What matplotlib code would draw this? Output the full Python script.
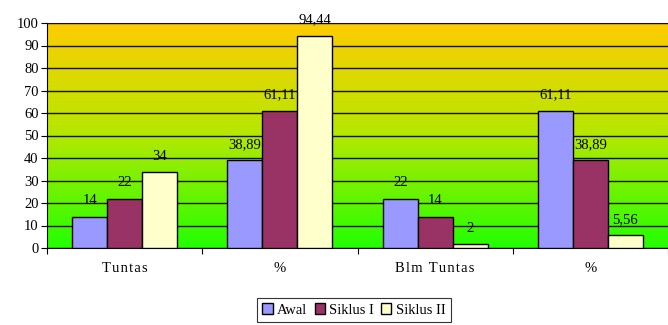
import numpy as np
import matplotlib
matplotlib.use("Agg")
import matplotlib.pyplot as plt
from matplotlib.colors import LinearSegmentedColormap

categories = ["Tuntas", "%", "Blm Tuntas", "%"]
series_names = ["Awal", "Siklus I", "Siklus II"]
awal = [14, 38.89, 22, 61.11]
siklus1 = [22, 61.11, 14, 38.89]
siklus2 = [34, 94.44, 2, 5.56]
colors = ["#9999FF", "#993366", "#FFFFCC"]

plt.rcParams["font.family"] = ["Liberation Serif", "DejaVu Serif"]
fs = 10.5

fig = plt.figure(figsize=(6.68, 3.25), dpi=100)
ax = fig.add_axes([47 / 668, 1 - 248 / 325, 1 - 47 / 668, 225 / 325])

# gradient background
cmap = LinearSegmentedColormap.from_list("bg", ["#22FF00", "#B4E800", "#FFCC00"])
grad = np.linspace(0, 1, 256).reshape(-1, 1)
ax.imshow(grad, cmap=cmap, aspect="auto", origin="lower",
          extent=[0, 4, 0, 100], zorder=0)

x = np.arange(len(categories)) + 0.5
w = 0.225
for i, (vals, name) in enumerate(zip([awal, siklus1, siklus2], series_names)):
    pos = x + (i - 1) * w
    ax.bar(pos, vals, width=w, color=colors[i], edgecolor="black",
           linewidth=1.0, label=name, zorder=3)
    for px, v in zip(pos, vals):
        txt = f"{v:g}".replace(".", ",")
        ax.text(px, v + 4, txt, ha="center", va="bottom", fontsize=fs,
                zorder=4, clip_on=False)

ax.set_xlim(0, 4)
ax.set_ylim(0, 100)
ax.set_yticks(range(0, 101, 10))
ax.yaxis.grid(True, color="#111111", linewidth=1.0, zorder=1)
ax.set_axisbelow(False)
ax.set_xticks([0, 1, 2, 3, 4])
ax.set_xticklabels([])
ax.set_xticks(x, minor=True)
spaced = ["\u200a".join(c) for c in categories]
ax.set_xticklabels(spaced, minor=True)
ax.tick_params(axis="x", which="minor", length=0, pad=10, labelsize=fs)
ax.tick_params(axis="x", which="major", length=4, direction="out")
ax.tick_params(axis="y", length=4, direction="out", labelsize=fs, pad=2)
for s in ["left", "bottom"]:
    ax.spines[s].set_color("black")
ax.spines["top"].set_color("#777777")
ax.spines["right"].set_visible(False)

leg = fig.legend(loc="center", bbox_to_anchor=(354 / 668, 1 - 310 / 325),
                 ncol=3, frameon=True, fancybox=False, edgecolor="black",
                 fontsize=fs, handlelength=0.7, handleheight=0.7,
                 handletextpad=0.3, columnspacing=0.5, borderpad=0.35)
leg.get_frame().set_linewidth(0.8)

fig.savefig("out.png", dpi=100)
